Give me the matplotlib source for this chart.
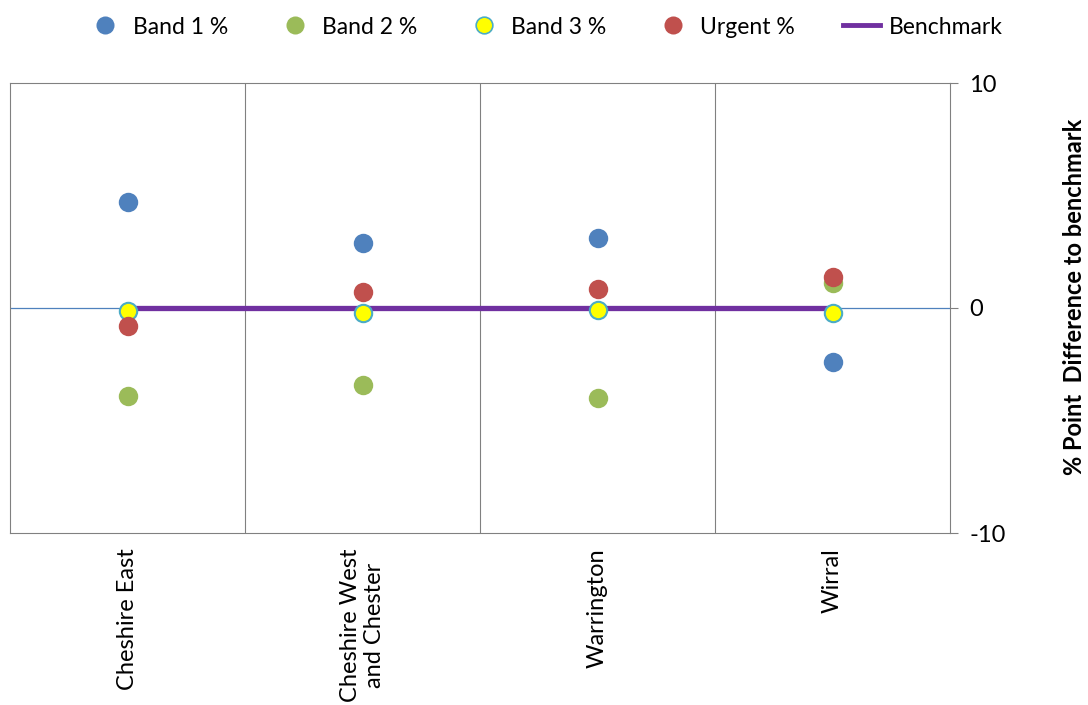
import numpy as np
import matplotlib
matplotlib.use("Agg")
import matplotlib.pyplot as plt
from matplotlib.lines import Line2D

plt.rcParams['font.family'] = ['Lato', 'DejaVu Sans']
plt.rcParams['axes.unicode_minus'] = False

areas = ['Cheshire East', 'Cheshire West\nand Chester', 'Warrington', 'Wirral']
band1 = [4.7, 2.9, 3.1, -2.4]
band2 = [-3.9, -3.4, -4.0, 1.1]
band3 = [-0.15, -0.2, -0.1, -0.2]
urgent = [-0.8, 0.7, 0.85, 1.4]
benchmark = [0, 0, 0, 0]

x = np.arange(len(areas))

fig = plt.figure(figsize=(10.88, 7.05), dpi=100)
ax = fig.add_axes([10/1088, 1-533/705, 940/1088, 450/705])

# zero line and benchmark
ax.axhline(0, color='#4f81bd', lw=0.9, zorder=1)
ax.plot(x, benchmark, color='#7030a0', lw=3.8, zorder=2, solid_capstyle='butt')

ms = 14
ax.plot(x, band1, 'o', color='#4f81bd', ms=ms, mec='none', zorder=3)
ax.plot(x, band2, 'o', color='#9bbb59', ms=ms, mec='none', zorder=3)
ax.plot(x, band3, 'o', color='#ffff00', ms=ms-1.5, mec='#4bacc6', mew=1.5, zorder=3)
ax.plot(x, urgent, 'o', color='#c0504d', ms=ms, mec='none', zorder=4)

ax.set_xlim(-0.5, 3.5)
ax.set_ylim(-10, 10)
for b in [0.5, 1.5, 2.5]:
    ax.axvline(b, color='#808080', lw=0.8, zorder=0)

for s in ax.spines.values():
    s.set_color('#808080')
    s.set_linewidth(0.8)

ax.yaxis.tick_right()
ax.set_yticks([-10, 0, 10])
ax.tick_params(axis='y', length=6, color='#808080', labelsize=17, pad=8)
fig.text(1074/1088, 1-297/705, '% Point  Difference to benchmark', rotation=90,
         fontsize=17, fontweight='bold', ha='center', va='center')

ax.set_xticks(x)
ax.set_xticklabels(areas, rotation=90, fontsize=17, ha='center', va='top', linespacing=1.15)
ax.tick_params(axis='x', length=0, pad=11)

handles = [
    Line2D([], [], marker='o', ls='none', color='#4f81bd', mec='none', ms=13),
    Line2D([], [], marker='o', ls='none', color='#9bbb59', mec='none', ms=13),
    Line2D([], [], marker='o', ls='none', color='#ffff00', mec='#4bacc6', mew=1.2, ms=12),
    Line2D([], [], marker='o', ls='none', color='#c0504d', mec='none', ms=13),
    Line2D([], [], color='#7030a0', lw=3.5),
]
labels = ['Band 1 %', 'Band 2 %', 'Band 3 %', 'Urgent %', 'Benchmark']
fig.legend(handles, labels, loc='center', bbox_to_anchor=(545/1088, 1-27/705), ncol=5,
           frameon=False, fontsize=16.5, handlelength=1.6, columnspacing=2.1, handletextpad=0.4)

fig.savefig('out.png', dpi=100)
